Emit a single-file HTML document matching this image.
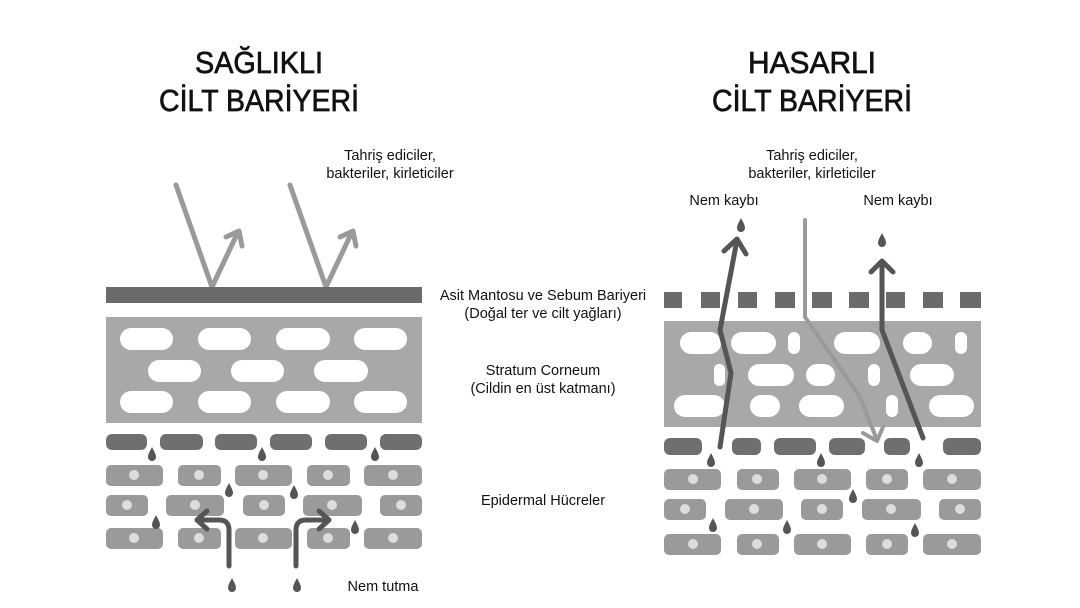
<!DOCTYPE html>
<html><head><meta charset="utf-8"><style>
html,body{margin:0;padding:0;background:#fff;}
svg{display:block}
text{font-family:"Liberation Sans",sans-serif;fill:#111}
</style></head><body>
<svg width="1080" height="608" viewBox="0 0 1080 608" xmlns="http://www.w3.org/2000/svg">
<defs>
<g id="drop"><path d="M0,-7 C2,-3 4,0 4,3 A4,4 0 0 1 -4,3 C-4,0 -2,-3 0,-7Z" fill="#555"/></g>
</defs>
<!-- Titles -->
<g font-size="31" text-anchor="middle" stroke="#111" stroke-width="0.7">
<text x="259" y="73" textLength="128" lengthAdjust="spacingAndGlyphs">SAĞLIKLI</text>
<text x="259" y="111" textLength="200" lengthAdjust="spacingAndGlyphs">CİLT BARİYERİ</text>
<text x="812" y="73" textLength="128" lengthAdjust="spacingAndGlyphs">HASARLI</text>
<text x="812" y="111" textLength="200" lengthAdjust="spacingAndGlyphs">CİLT BARİYERİ</text>
</g>
<g font-size="14.5" text-anchor="middle">
<text x="390" y="160">Tahriş ediciler,</text>
<text x="390" y="178">bakteriler, kirleticiler</text>
<text x="543" y="300">Asit Mantosu ve Sebum Bariyeri</text>
<text x="543" y="318">(Doğal ter ve cilt yağları)</text>
<text x="543" y="375">Stratum Corneum</text>
<text x="543" y="393">(Cildin en üst katmanı)</text>
<text x="543" y="505">Epidermal Hücreler</text>
<text x="383" y="591">Nem tutma</text>
<text x="812" y="160">Tahriş ediciler,</text>
<text x="812" y="178">bakteriler, kirleticiler</text>
<text x="724" y="205">Nem kaybı</text>
<text x="898" y="205">Nem kaybı</text>
</g>

<!-- LEFT -->
<g stroke="#9a9a9a" stroke-width="5" fill="none" stroke-linecap="round" stroke-linejoin="round">
<path d="M176,185 L212,287 L238,232"/><path d="M226,237 L239,231 L242,246"/>
<path d="M290,185 L326,287 L352,232"/><path d="M340,237 L353,231 L356,246"/>
</g>
<rect x="106" y="287" width="316" height="16" fill="#6b6b6b"/>
<rect x="106" y="317" width="316" height="106" fill="#a8a8a8"/>
<g fill="#fff">
<rect x="120" y="328" width="53" height="22" rx="11"/><rect x="198" y="328" width="53" height="22" rx="11"/><rect x="276" y="328" width="54" height="22" rx="11"/><rect x="354" y="328" width="53" height="22" rx="11"/>
<rect x="148" y="360" width="53" height="22" rx="11"/><rect x="231" y="360" width="53" height="22" rx="11"/><rect x="314" y="360" width="54" height="22" rx="11"/>
<rect x="120" y="391" width="53" height="22" rx="11"/><rect x="198" y="391" width="53" height="22" rx="11"/><rect x="276" y="391" width="54" height="22" rx="11"/><rect x="354" y="391" width="53" height="22" rx="11"/>
</g>
<g fill="#6f6f6f">
<rect x="106" y="434" width="41" height="16" rx="6"/><rect x="160" y="434" width="43" height="16" rx="6"/><rect x="215" y="434" width="42" height="16" rx="6"/><rect x="270" y="434" width="42" height="16" rx="6"/><rect x="325" y="434" width="42" height="16" rx="6"/><rect x="380" y="434" width="42" height="16" rx="6"/>
</g>
<g fill="#9a9a9a">
<rect x="106" y="465" width="57" height="21" rx="5"/><rect x="178" y="465" width="43" height="21" rx="5"/><rect x="235" y="465" width="57" height="21" rx="5"/><rect x="307" y="465" width="43" height="21" rx="5"/><rect x="364" y="465" width="58" height="21" rx="5"/>
<rect x="106" y="495" width="42" height="21" rx="5"/><rect x="166" y="495" width="58" height="21" rx="5"/><rect x="243" y="495" width="42" height="21" rx="5"/><rect x="303" y="495" width="59" height="21" rx="5"/><rect x="380" y="495" width="42" height="21" rx="5"/>
<rect x="106" y="528" width="57" height="21" rx="5"/><rect x="178" y="528" width="43" height="21" rx="5"/><rect x="235" y="528" width="57" height="21" rx="5"/><rect x="307" y="528" width="43" height="21" rx="5"/><rect x="364" y="528" width="58" height="21" rx="5"/>
</g>
<g fill="#ddd">
<circle cx="134" cy="475" r="5"/><circle cx="199" cy="475" r="5"/><circle cx="263" cy="475" r="5"/><circle cx="328" cy="475" r="5"/><circle cx="393" cy="475" r="5"/>
<circle cx="127" cy="505" r="5"/><circle cx="195" cy="505" r="5"/><circle cx="264" cy="505" r="5"/><circle cx="332" cy="505" r="5"/><circle cx="401" cy="505" r="5"/>
<circle cx="134" cy="538" r="5"/><circle cx="199" cy="538" r="5"/><circle cx="263" cy="538" r="5"/><circle cx="328" cy="538" r="5"/><circle cx="393" cy="538" r="5"/>
</g>
<g>
<use href="#drop" x="152" y="454"/><use href="#drop" x="262" y="454"/><use href="#drop" x="375" y="454"/>
<use href="#drop" x="229" y="490"/><use href="#drop" x="294" y="492"/>
<use href="#drop" x="156" y="522"/><use href="#drop" x="355" y="527"/>
<use href="#drop" x="232" y="585"/><use href="#drop" x="297" y="585"/>
</g>
<g stroke="#555" stroke-width="5" fill="none" stroke-linecap="round" stroke-linejoin="round">
<path d="M229,566 L229,530 Q229,520 219,520 L198,520"/><path d="M207,511 L197,520 L207,529"/>
<path d="M296,566 L296,530 Q296,520 306,520 L328,520"/><path d="M319,511 L329,520 L319,529"/>
</g>

<!-- RIGHT -->
<g fill="#6b6b6b">
<rect x="664" y="292" width="18" height="16"/><rect x="701" y="292" width="19" height="16"/><rect x="738" y="292" width="19" height="16"/><rect x="775" y="292" width="20" height="16"/><rect x="812" y="292" width="20" height="16"/><rect x="849" y="292" width="20" height="16"/><rect x="886" y="292" width="19" height="16"/><rect x="923" y="292" width="20" height="16"/><rect x="960" y="292" width="21" height="16"/>
</g>
<rect x="664" y="321" width="317" height="106" fill="#a8a8a8"/>
<g fill="#fff">
<rect x="680" y="332" width="41" height="22" rx="11"/><rect x="731" y="332" width="45" height="22" rx="11"/><rect x="788" y="332" width="12" height="22" rx="6"/><rect x="834" y="332" width="46" height="22" rx="11"/><rect x="903" y="332" width="29" height="22" rx="11"/><rect x="955" y="332" width="12" height="22" rx="6"/>
<rect x="714" y="364" width="11" height="22" rx="5"/><rect x="748" y="364" width="46" height="22" rx="11"/><rect x="806" y="364" width="29" height="22" rx="11"/><rect x="868" y="364" width="12" height="22" rx="6"/><rect x="910" y="364" width="44" height="22" rx="11"/>
<rect x="674" y="395" width="51" height="22" rx="11"/><rect x="750" y="395" width="30" height="22" rx="11"/><rect x="799" y="395" width="45" height="22" rx="11"/><rect x="886" y="395" width="12" height="22" rx="6"/><rect x="929" y="395" width="45" height="22" rx="11"/>
</g>
<g fill="#6f6f6f">
<rect x="664" y="438" width="38" height="17" rx="6"/><rect x="732" y="438" width="29" height="17" rx="6"/><rect x="774" y="438" width="42" height="17" rx="6"/><rect x="829" y="438" width="36" height="17" rx="6"/><rect x="884" y="438" width="26" height="17" rx="6"/><rect x="943" y="438" width="38" height="17" rx="6"/>
</g>
<g fill="#9a9a9a">
<rect x="664" y="469" width="57" height="21" rx="5"/><rect x="737" y="469" width="42" height="21" rx="5"/><rect x="794" y="469" width="57" height="21" rx="5"/><rect x="866" y="469" width="42" height="21" rx="5"/><rect x="923" y="469" width="58" height="21" rx="5"/>
<rect x="664" y="499" width="42" height="21" rx="5"/><rect x="725" y="499" width="58" height="21" rx="5"/><rect x="801" y="499" width="42" height="21" rx="5"/><rect x="862" y="499" width="59" height="21" rx="5"/><rect x="939" y="499" width="42" height="21" rx="5"/>
<rect x="664" y="534" width="57" height="21" rx="5"/><rect x="737" y="534" width="42" height="21" rx="5"/><rect x="794" y="534" width="57" height="21" rx="5"/><rect x="866" y="534" width="42" height="21" rx="5"/><rect x="923" y="534" width="58" height="21" rx="5"/>
</g>
<g fill="#ddd">
<circle cx="693" cy="479" r="5"/><circle cx="757" cy="479" r="5"/><circle cx="822" cy="479" r="5"/><circle cx="887" cy="479" r="5"/><circle cx="952" cy="479" r="5"/>
<circle cx="685" cy="509" r="5"/><circle cx="754" cy="509" r="5"/><circle cx="822" cy="509" r="5"/><circle cx="891" cy="509" r="5"/><circle cx="960" cy="509" r="5"/>
<circle cx="693" cy="544" r="5"/><circle cx="757" cy="544" r="5"/><circle cx="822" cy="544" r="5"/><circle cx="887" cy="544" r="5"/><circle cx="952" cy="544" r="5"/>
</g>
<g>
<use href="#drop" x="711" y="460"/><use href="#drop" x="821" y="460"/><use href="#drop" x="919" y="460"/>
<use href="#drop" x="853" y="496"/>
<use href="#drop" x="713" y="525"/><use href="#drop" x="787" y="527"/><use href="#drop" x="915" y="530"/>
<use href="#drop" x="741" y="225"/><use href="#drop" x="882" y="240"/>
</g>
<g stroke="#9a9a9a" stroke-width="4" fill="none" stroke-linecap="round" stroke-linejoin="round">
<path d="M805,220 L805,317 L860,397 L877,440"/><path d="M863,433 L877,441 L883,427"/>
</g>
<g stroke="#555" stroke-width="5" fill="none" stroke-linecap="round" stroke-linejoin="round">
<path d="M720,447 L731,373 L720,330 L737,240"/><path d="M724,251 L737,239 L746,254"/>
<path d="M923,438 L882,330 L882,262"/><path d="M871,272 L882,261 L893,272"/>
</g>
</svg>
</body></html>
